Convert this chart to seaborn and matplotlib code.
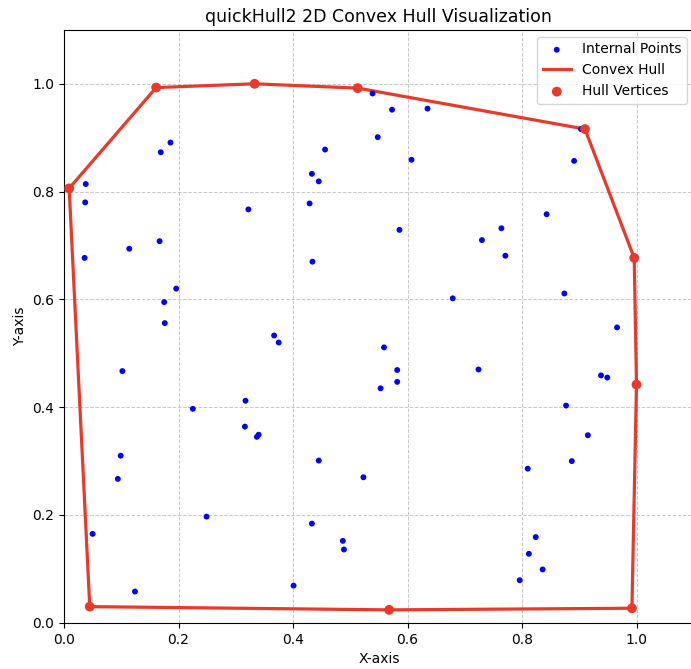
import numpy as np
import pandas as pd
import matplotlib
matplotlib.use("Agg")
import matplotlib.pyplot as plt
import seaborn as sns

# internal points
internal_x = [0.539, 0.548, 0.186, 0.169, 0.456, 0.433, 0.445, 0.038, 0.037, 0.322,
              0.429, 0.167, 0.114, 0.036, 0.434, 0.196, 0.175, 0.176, 0.367, 0.375,
              0.573, 0.635, 0.607, 0.903, 0.891, 0.843, 0.764, 0.730, 0.771, 0.586,
              0.679, 0.874, 0.966, 0.559, 0.102, 0.317, 0.225, 0.316, 0.340, 0.337,
              0.099, 0.445, 0.094, 0.523, 0.249, 0.050, 0.433, 0.487, 0.489, 0.124,
              0.401, 0.553, 0.582, 0.582, 0.724, 0.938, 0.949, 0.877, 0.915, 0.887,
              0.810, 0.824, 0.812, 0.836, 0.796]
internal_y = [0.982, 0.901, 0.891, 0.873, 0.878, 0.833, 0.819, 0.814, 0.780, 0.767,
              0.778, 0.708, 0.694, 0.677, 0.670, 0.620, 0.595, 0.556, 0.533, 0.520,
              0.952, 0.954, 0.859, 0.916, 0.857, 0.758, 0.732, 0.710, 0.681, 0.729,
              0.602, 0.611, 0.548, 0.511, 0.467, 0.412, 0.397, 0.364, 0.349, 0.345,
              0.310, 0.301, 0.267, 0.270, 0.197, 0.165, 0.184, 0.152, 0.136, 0.058,
              0.069, 0.435, 0.469, 0.447, 0.470, 0.459, 0.455, 0.403, 0.348, 0.300,
              0.286, 0.159, 0.128, 0.099, 0.079]

# hull vertices in order
hull_x = [0.009, 0.161, 0.333, 0.513, 0.910, 0.996, 1.000, 0.992, 0.568, 0.045]
hull_y = [0.806, 0.993, 1.000, 0.992, 0.916, 0.677, 0.442, 0.027, 0.024, 0.030]

hull_color = '#e8392b'

pts = pd.DataFrame({'x': internal_x, 'y': internal_y})
hull = pd.DataFrame({'x': hull_x, 'y': hull_y})
hull_closed = pd.concat([hull, hull.iloc[[0]]], ignore_index=True)

fig = plt.figure(figsize=(6.91, 6.69), dpi=100)
ax = fig.add_axes([64 / 691, (669 - 622.8) / 669, 1.1 * 572.5 / 691, 1.1 * 539 / 669])

sns.scatterplot(x='x', y='y', data=pts, color='blue', s=18, edgecolor='none',
                label='Internal Points', ax=ax, zorder=3)
ax.plot(hull_closed['x'], hull_closed['y'], color=hull_color, lw=2.3,
        label='Convex Hull', zorder=2)
sns.scatterplot(x='x', y='y', data=hull, color=hull_color, s=50, edgecolor='none',
                label='Hull Vertices', ax=ax, zorder=4)

ax.set_xlim(0, 1.1)
ax.set_ylim(0, 1.1)
ax.set_xticks([0.0, 0.2, 0.4, 0.6, 0.8, 1.0])
ax.set_yticks([0.0, 0.2, 0.4, 0.6, 0.8, 1.0])
ax.grid(True, linestyle='--', color='#b0b0b0', alpha=0.7, linewidth=0.7)
ax.set_axisbelow(True)
ax.set_title("quickHull2 2D Convex Hull Visualization", fontsize=12.5)
ax.set_xlabel("X-axis")
ax.set_ylabel("Y-axis")
ax.legend(loc='upper right', fontsize=10)

fig.savefig("out.png", dpi=100)
